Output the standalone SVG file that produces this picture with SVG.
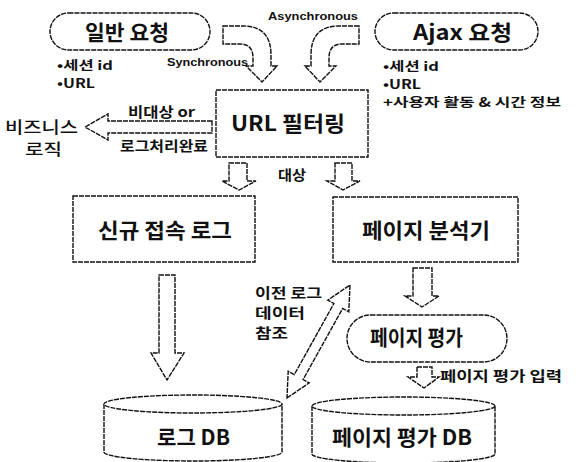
<svg xmlns="http://www.w3.org/2000/svg" width="584" height="462" viewBox="0 0 584 462">
<style>
.s{fill:#fff;stroke:#111;stroke-width:1.4;stroke-dasharray:5 1;}
.k{font-family:"Noto Sans CJK KR","Noto Sans",sans-serif;font-weight:700;fill:#111;}
.r{font-family:"Noto Sans CJK KR","Noto Sans",sans-serif;font-weight:500;fill:#111;}
.e{font-family:"Liberation Sans",Arial,sans-serif;font-weight:700;fill:#111;}
.big{font-size:21px;}
.sm{font-size:12.5px;}
</style>
<rect width="584" height="462" fill="#fff"/>
<g id="connectors">
  <path class="s" d="M223,26 L243,26 Q271,26 271,55 L271,66 L277,66 L262,82 L246,66 L253,66 L253,58 Q253,44 240,44 L223,44 Z"/>
  <path class="s" d="M359,26 L339,26 Q311,26 311,55 L311,66 L305,66 L320,82 L336,66 L329,66 L329,58 Q329,44 342,44 L359,44 Z"/>
  <path class="s" d="M212,121 L108,121 L108,114 L85,127 L108,140 L108,133 L212,133 Z"/>
  <path class="s" d="M229,163 L247,163 L247,181 L256,181 L239,190 L222,181 L229,181 Z"/>
  <path class="s" d="M335,163 L352,163 L352,181 L360,181 L343,190 L327,181 L335,181 Z"/>
  <path class="s" d="M159,275 L175,275 L175,353 L184,353 L167,380 L151,353 L159,353 Z"/>
  <path class="s" d="M413,268 L432,268 L432,296 L439,296 L422,307 L405,296 L413,296 Z"/>
  <path class="s" d="M417,367 L432,367 L432,377 L439,377 L424,388 L408,377 L417,377 Z"/>
  <path class="s" d="M287,398 L309.2,382.9 L303.1,379.5 L342.7,308.4 L348.8,311.8 L350,285 L327.8,300.1 L333.9,303.5 L294.3,374.6 L288.2,371.2 Z"/>
  <text class="e" x="167" y="66" font-size="11.5" textLength="81" lengthAdjust="spacingAndGlyphs">Synchronous</text>
  <text class="e" x="268" y="20" font-size="11.5" textLength="90" lengthAdjust="spacingAndGlyphs">Asynchronous</text>
  <text class="k" x="128" y="117" font-size="14" textLength="67" lengthAdjust="spacingAndGlyphs">비대상 or</text>
  <text class="k" x="120" y="151" font-size="14" textLength="88" lengthAdjust="spacingAndGlyphs">로그처리완료</text>
  <text class="k" x="278" y="180" font-size="14" textLength="28" lengthAdjust="spacingAndGlyphs">대상</text>
  <text class="k" x="255" y="298" font-size="14" textLength="67" lengthAdjust="spacingAndGlyphs">이전 로그</text>
  <text class="k" x="255" y="318" font-size="14" textLength="50" lengthAdjust="spacingAndGlyphs">데이터</text>
  <text class="k" x="255" y="338" font-size="14" textLength="33" lengthAdjust="spacingAndGlyphs">참조</text>
  <text class="k" x="440" y="381" font-size="14" textLength="122" lengthAdjust="spacingAndGlyphs">페이지 평가 입력</text>
</g>
<g id="normal-request">
  <rect class="s" x="50" y="13" width="160" height="37" rx="18.5"/>
  <text class="k big" x="85" y="40" textLength="84" lengthAdjust="spacingAndGlyphs">일반 요청</text>
  <text class="k sm" x="57" y="70" textLength="56" lengthAdjust="spacingAndGlyphs">•세션 id</text>
  <text class="k sm" x="57" y="88" textLength="38" lengthAdjust="spacingAndGlyphs">•URL</text>
</g>
<g id="ajax-request">
  <rect class="s" x="375" y="13" width="163" height="37" rx="18.5"/>
  <text class="k big" x="413" y="40" textLength="99" lengthAdjust="spacingAndGlyphs">Ajax 요청</text>
  <text class="k sm" x="383" y="71" textLength="56" lengthAdjust="spacingAndGlyphs">•세션 id</text>
  <text class="k sm" x="383" y="89" textLength="38" lengthAdjust="spacingAndGlyphs">•URL</text>
  <text class="k sm" x="383" y="107" textLength="178" lengthAdjust="spacingAndGlyphs">+사용자 활동 &amp; 시간 정보</text>
</g>
<g id="url-filter">
  <rect class="s" x="216" y="90" width="152" height="67"/>
  <text class="k big" x="231" y="131" textLength="114" lengthAdjust="spacingAndGlyphs">URL 필터링</text>
</g>
<g id="business-logic">
  <text class="r" x="5" y="133" font-size="16" textLength="73" lengthAdjust="spacingAndGlyphs">비즈니스</text>
  <text class="r" x="25" y="155" font-size="16" textLength="37" lengthAdjust="spacingAndGlyphs">로직</text>
</g>
<g id="new-access-log">
  <rect class="s" x="73" y="196" width="182" height="66"/>
  <text class="k big" x="98" y="238" textLength="134" lengthAdjust="spacingAndGlyphs">신규 접속 로그</text>
</g>
<g id="page-analyzer">
  <rect class="s" x="333" y="197" width="185" height="65"/>
  <text class="k big" x="362" y="238" textLength="128" lengthAdjust="spacingAndGlyphs">페이지 분석기</text>
</g>
<g id="page-eval">
  <rect class="s" x="347" y="315" width="160" height="47" rx="23.5"/>
  <text class="k big" x="370" y="345" textLength="93" lengthAdjust="spacingAndGlyphs">페이지 평가</text>
</g>
<g id="log-db">
  <path class="s" d="M104,404 L104,452 A89,9 0 0 0 282,452 L282,404"/>
  <ellipse class="s" cx="193" cy="404" rx="89" ry="9"/>
  <text class="k big" x="157" y="445" textLength="73" lengthAdjust="spacingAndGlyphs">로그 DB</text>
</g>
<g id="page-eval-db">
  <path class="s" d="M312,406 L312,454 A91.5,9 0 0 0 495,454 L495,406"/>
  <ellipse class="s" cx="403.5" cy="406" rx="91.5" ry="9"/>
  <text class="k big" x="332" y="445" textLength="140" lengthAdjust="spacingAndGlyphs">페이지 평가 DB</text>
</g>
</svg>
